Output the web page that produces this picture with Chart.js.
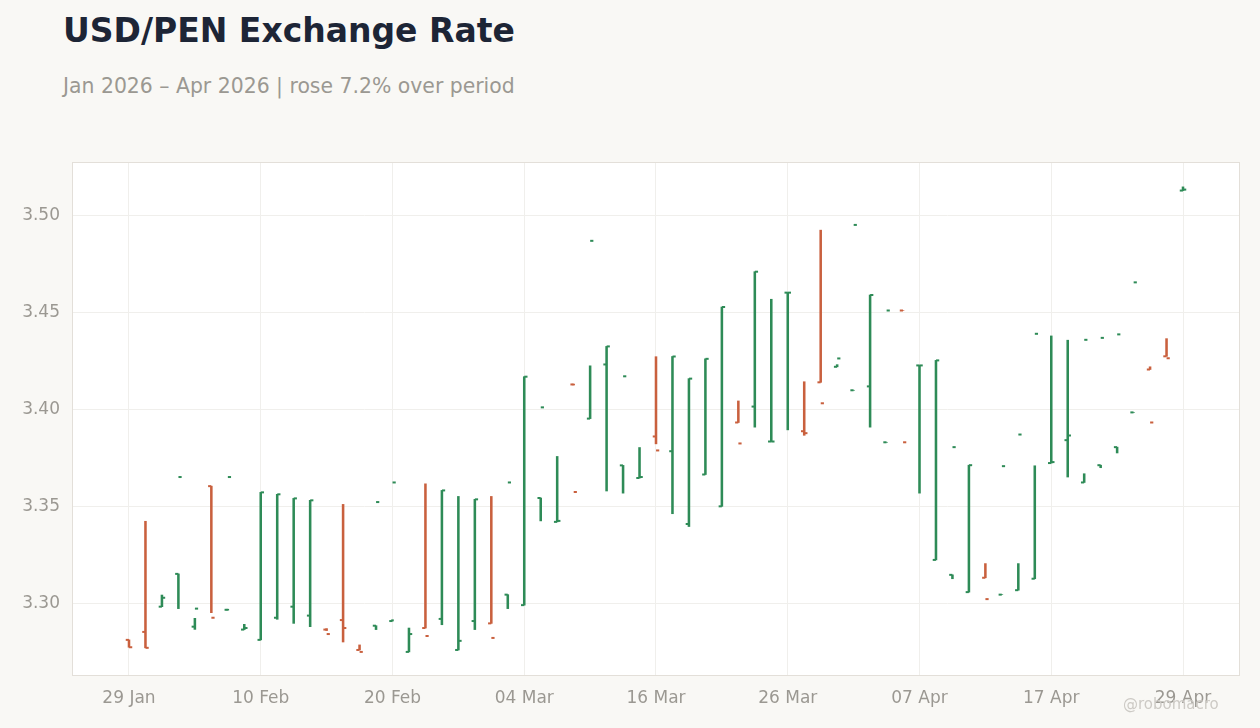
<!DOCTYPE html>
<html>
<head>
<meta charset="utf-8">
<script src="https://cdn.jsdelivr.net/npm/chart.js@4.4.1/dist/chart.umd.min.js"></script>
<style>
  html, body { margin: 0; background: #f9f8f5; }
  #wrap { position: relative; width: 1260px; height: 728px; font-family: 'DejaVu Sans', sans-serif; }
  h1 { position: absolute; left: 63px; top: 14px; margin: 0; font-size: 33px; line-height: 1; font-weight: bold; color: #1d2536; }
  .sub { position: absolute; left: 63px; top: 76px; font-size: 20.4px; line-height: 1; color: #9b9892; }
  .mark { position: absolute; left: 1123px; top: 697px; font-size: 15px; line-height: 1; color: #cdcac5; z-index: 2; }
  canvas { position: absolute; left: 0; top: 0; }
</style>
</head>
<body>
<div id="wrap">
  <h1>USD/PEN Exchange Rate</h1>
  <div class="sub">Jan 2026 – Apr 2026 | rose 7.2% over period</div>
  <canvas id="chart" width="1260" height="728"></canvas>
  <div class="mark">@robomacro</div>
</div>
<script>
// trading days (weekdays)
const DATES = [
  '2026-01-29', '2026-01-30',
  '2026-02-02', '2026-02-03', '2026-02-04', '2026-02-05', '2026-02-06',
  '2026-02-09', '2026-02-10', '2026-02-11', '2026-02-12', '2026-02-13',
  '2026-02-16', '2026-02-17', '2026-02-18', '2026-02-19', '2026-02-20',
  '2026-02-23', '2026-02-24', '2026-02-25', '2026-02-26', '2026-02-27',
  '2026-03-02', '2026-03-03', '2026-03-04', '2026-03-05', '2026-03-06',
  '2026-03-09', '2026-03-10', '2026-03-11', '2026-03-12', '2026-03-13',
  '2026-03-16', '2026-03-17', '2026-03-18', '2026-03-19', '2026-03-20',
  '2026-03-23', '2026-03-24', '2026-03-25', '2026-03-26', '2026-03-27',
  '2026-03-30', '2026-03-31', '2026-04-01', '2026-04-02', '2026-04-03',
  '2026-04-06', '2026-04-07', '2026-04-08', '2026-04-09', '2026-04-10',
  '2026-04-13', '2026-04-14', '2026-04-15', '2026-04-16', '2026-04-17',
  '2026-04-20', '2026-04-21', '2026-04-22', '2026-04-23', '2026-04-24',
  '2026-04-27', '2026-04-28', '2026-04-29'
];

const OPEN = [
  3.2812, 3.2853, 3.2983, 3.3152, 3.2880, 3.3604, 3.2967, 3.2865, 3.2812, 3.2926,
  3.2983, 3.2937, 3.2865, 3.2914, 3.2760, 3.2885, 3.2909, 3.2750, 3.2873, 3.2920,
  3.2760, 3.2909, 3.2897, 3.3045, 3.2991, 3.3543, 3.3420, 3.4128, 3.3952, 3.4231,
  3.3711, 3.3646, 3.3860, 3.3784, 3.3409, 3.3664, 3.3500, 3.3932, 3.4014, 3.3834,
  3.4601, 3.3887, 3.4139, 3.4219, 3.4098, 3.4118, 3.3830, 3.4509, 3.4226, 3.3224,
  3.3147, 3.3058, 3.3132, 3.3045, 3.3068, 3.3127, 3.3723, 3.3841, 3.3623, 3.3712,
  3.3805, 3.3984, 3.4205, 3.4273, 3.5127
];
const HIGH = [
  3.2812, 3.3423, 3.3043, 3.3152, 3.2923, 3.3604, 3.2970, 3.2892, 3.3572, 3.3562,
  3.3541, 3.3531, 3.2870, 3.3510, 3.2786, 3.2885, 3.2916, 3.2873, 3.3616, 3.3582,
  3.3551, 3.3536, 3.3551, 3.3045, 3.4168, 3.3543, 3.3757, 3.4130, 3.4224, 3.4324,
  3.3711, 3.3803, 3.4271, 3.4272, 3.4158, 3.4260, 3.4527, 3.4043, 3.4709, 3.4567,
  3.4601, 3.4142, 3.4923, 3.4230, 3.4098, 3.4589, 3.3830, 3.4509, 3.4226, 3.4252,
  3.3147, 3.3712, 3.3205, 3.3045, 3.3205, 3.3709, 3.4378, 3.4356, 3.3668, 3.3712,
  3.3805, 3.3984, 3.4219, 3.4364, 3.5146
];
const LOW = [
  3.2774, 3.2771, 3.2983, 3.2973, 3.2866, 3.2952, 3.2965, 3.2865, 3.2812, 3.2918,
  3.2897, 3.2880, 3.2860, 3.2801, 3.2760, 3.2865, 3.2909, 3.2750, 3.2873, 3.2890,
  3.2760, 3.2865, 3.2897, 3.2973, 3.2991, 3.3425, 3.3420, 3.4125, 3.3952, 3.3579,
  3.3568, 3.3646, 3.3822, 3.3462, 3.3396, 3.3664, 3.3500, 3.3932, 3.3908, 3.3834,
  3.3894, 3.3866, 3.4139, 3.4219, 3.4098, 3.3908, 3.3830, 3.4509, 3.3568, 3.3224,
  3.3127, 3.3058, 3.3132, 3.3045, 3.3068, 3.3127, 3.3723, 3.3651, 3.3623, 3.3699,
  3.3775, 3.3984, 3.4205, 3.4273, 3.5127
];
const CLOSE = [
  3.2774, 3.2771, 3.3029, 3.3651, 3.2973, 3.2926, 3.3651, 3.2873, 3.3572, 3.3562,
  3.3541, 3.3531, 3.2842, 3.2873, 3.2750, 3.3522, 3.3623, 3.2842, 3.2832, 3.3582,
  3.2807, 3.3536, 3.2822, 3.3623, 3.4168, 3.4010, 3.3425, 3.3574, 3.4868, 3.4324,
  3.4170, 3.3651, 3.3788, 3.4272, 3.4158, 3.4260, 3.4527, 3.3824, 3.4709, 3.3834,
  3.4601, 3.3877, 3.4031, 3.4262, 3.4950, 3.4589, 3.4509, 3.3830, 3.4226, 3.4252,
  3.3805, 3.3712, 3.3022, 3.3707, 3.3870, 3.4389, 3.3728, 3.3865, 3.4358, 3.4368,
  3.4386, 3.4654, 3.3932, 3.4263, 3.5132
];

const X_TICK_DATES = ['2026-01-29', '2026-02-10', '2026-02-20', '2026-03-04', '2026-03-16',
                      '2026-03-26', '2026-04-07', '2026-04-17', '2026-04-29'];
const X_TICK_LABELS = ['29 Jan', '10 Feb', '20 Feb', '04 Mar', '16 Mar', '26 Mar', '07 Apr', '17 Apr', '29 Apr'];
const Y_TICKS = [3.30, 3.35, 3.40, 3.45, 3.50];

const UP = '#2e8b57';
const DOWN = '#c9603e';
const TEXT = '#9b9892';
const GRID = '#f0efec';
const TICK_OFF = 0.1; // open/close tick offset, in bar slots

const colors = OPEN.map((o, i) => CLOSE[i] >= o ? UP : DOWN);
const tickIdx = X_TICK_DATES.map(d => DATES.indexOf(d));

const frame = {
    id: 'frame',
    beforeDraw(c) {
        const { ctx, chartArea: a } = c;
        ctx.save();
        ctx.fillStyle = '#ffffff';
        ctx.fillRect(a.left, a.top, a.width, a.height);
        ctx.restore();
    },
    afterDraw(c) {
        const { ctx, chartArea: a } = c;
        ctx.save();
        ctx.strokeStyle = '#e3dfd9';
        ctx.lineWidth = 1;
        ctx.strokeRect(a.left - 0.5, a.top - 0.5, a.width + 1, a.height + 1);
        ctx.restore();
    }
};

new Chart(document.getElementById('chart'), {
    type: 'bar',
    data: {
        datasets: [
            {
                label: 'High-Low',
                data: DATES.map((d, i) => ({ x: i, y: [LOW[i], HIGH[i]] })),
                backgroundColor: colors,
                borderWidth: 0,
                barThickness: 1.9,
                order: 2,
            },
            {
                type: 'scatter',
                label: 'Open',
                data: DATES.map((d, i) => ({ x: i - TICK_OFF, y: OPEN[i] })),
                pointStyle: 'line',
                pointRadius: 1.6,
                pointBorderWidth: 2,
                pointBorderColor: colors,
                order: 1,
            },
            {
                type: 'scatter',
                label: 'Close',
                data: DATES.map((d, i) => ({ x: i + TICK_OFF, y: CLOSE[i] })),
                pointStyle: 'line',
                pointRadius: 1.6,
                pointBorderWidth: 2,
                pointBorderColor: colors,
                order: 1,
            },
        ]
    },
    options: {
        responsive: false,
        animation: false,
        events: [],
        layout: { padding: { top: 163, right: 21, bottom: 0, left: 0 } },
        plugins: {
            legend: { display: false },
            tooltip: { enabled: false },
        },
        scales: {
            x: {
                type: 'linear',
                min: -3.4,
                max: 67.4,
                offset: false,
                afterBuildTicks: s => { s.ticks = tickIdx.map(v => ({ value: v })); },
                afterFit: s => { s.height = 53; },
                ticks: {
                    callback: v => X_TICK_LABELS[tickIdx.indexOf(v)],
                    color: TEXT,
                    font: { family: 'DejaVu Sans', size: 17 },
                    padding: 13,
                    maxRotation: 0,
                    autoSkip: false,
                },
                grid: { color: GRID, drawTicks: false, offset: false },
                border: { display: false },
            },
            y: {
                min: 3.2631,
                max: 3.5269,
                afterBuildTicks: s => { s.ticks = Y_TICKS.map(v => ({ value: v })); },
                afterFit: s => { s.width = 73; },
                ticks: {
                    callback: v => v.toFixed(2),
                    color: TEXT,
                    font: { family: 'DejaVu Sans', size: 17 },
                    padding: 13,
                },
                grid: { color: GRID, drawTicks: false },
                border: { display: false },
            },
        },
    },
    plugins: [frame],
});
</script>
</body>
</html>
